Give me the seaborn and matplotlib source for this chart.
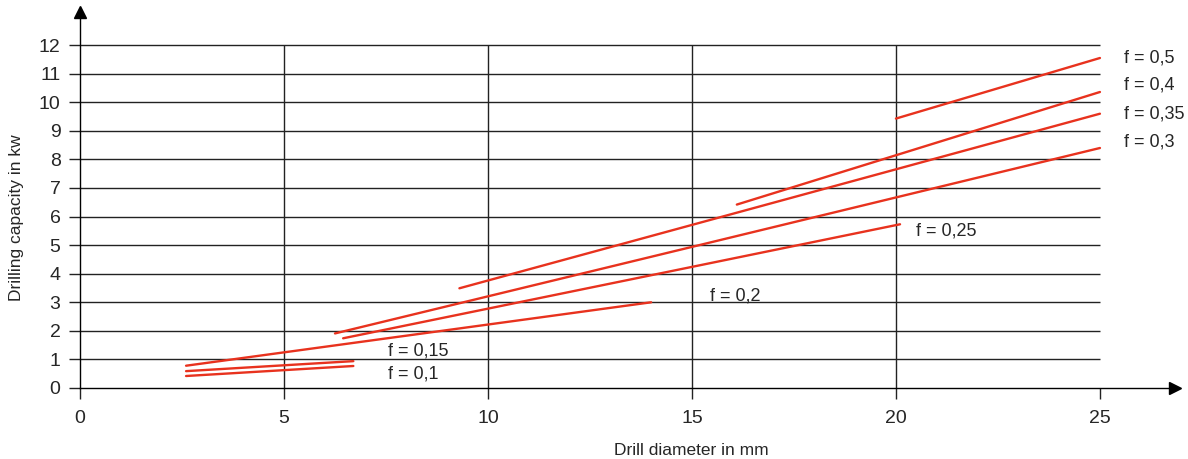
"""
Drilling capacity vs drill diameter, feed rate lines f
"""

import numpy as np
import pandas as pd
import matplotlib
matplotlib.use("Agg")
import matplotlib.pyplot as plt
import seaborn as sns

# ---------- data ----------
feeds = ["0,1", "0,15", "0,2", "0,25", "0,3", "0,35", "0,4", "0,5"]
d_start = [2.6, 2.6, 2.6, 6.45, 6.25, 9.3, 16.1, 20.0]
d_end = [6.7, 6.7, 14.0, 20.1, 25.0, 25.0, 25.0, 25.0]
p_start = [0.42, 0.59, 0.78, 1.74, 1.91, 3.49, 6.42, 9.43]
p_end = [0.77, 0.94, 3.0, 5.73, 8.4, 9.6, 10.36, 11.55]

# label positions (x, y) for "f = ..."
label_x = [7.55, 7.55, 15.45, 20.5, 25.6, 25.6, 25.6, 25.6]
label_y = [0.49, 1.29, 3.22, 5.49, 8.6, 9.6, 10.6, 11.55]

x_ticks = [0, 5, 10, 15, 20, 25]
y_ticks = list(range(0, 13))

rows = []
for f, x0, x1, y0, y1 in zip(feeds, d_start, d_end, p_start, p_end):
    rows.append({"f": f, "d": x0, "p": y0})
    rows.append({"f": f, "d": x1, "p": y1})
df = pd.DataFrame(rows)

sns.set_style("white")
plt.rcParams["font.family"] = ["Liberation Sans", "DejaVu Sans"]

fig = plt.figure(figsize=(11.88, 4.59), dpi=100)
ax = fig.add_axes([80 / 1188, 71 / 459, 1095 / 1188, 376 / 459])
ax.set_xlim(0, 26.84)
ax.set_ylim(0, 13.16)

# ---- grid (stops at 25 / 12) ----
ax.hlines(y_ticks[1:], 0, 25, color="#222222", lw=1.0, zorder=1)
ax.vlines(x_ticks[1:-1], 0, 12, color="#222222", lw=1.0, zorder=1)

# ---- feed lines ----
sns.lineplot(data=df, x="d", y="p", hue="f", units="f", estimator=None,
             palette=["#e8321e"] * len(feeds), lw=1.7, legend=False,
             ax=ax, zorder=3)

for f, lx, ly in zip(feeds, label_x, label_y):
    ax.text(lx, ly, f"f = {f}", fontsize=13, va="center", ha="left")

# ---- axes with arrows ----
for s in ["top", "right"]:
    ax.spines[s].set_visible(False)
for s in ["left", "bottom"]:
    ax.spines[s].set_color("black")
    ax.spines[s].set_linewidth(1.0)
ax.plot(1, 0, ">", color="black", ms=9, transform=ax.transAxes, clip_on=False)
ax.plot(0, 1, "^", color="black", ms=9, transform=ax.transAxes, clip_on=False)

ax.set_xticks(x_ticks)
ax.set_yticks(y_ticks)
ax.tick_params(axis="both", direction="out", length=8, width=1.0,
               color="#222222", labelsize=14, bottom=True, left=True)
ax.tick_params(axis="x", pad=8)
ax.tick_params(axis="y", pad=6)

ax.set_xlabel("Drill diameter in mm", fontsize=12.5)
ax.set_ylabel("Drilling capacity in kw", fontsize=12.5)
ax.xaxis.set_label_coords(0.558, -0.146)
ax.yaxis.set_label_coords(-0.051, 0.452)

plt.savefig("out.png", dpi=100)
plt.close()
